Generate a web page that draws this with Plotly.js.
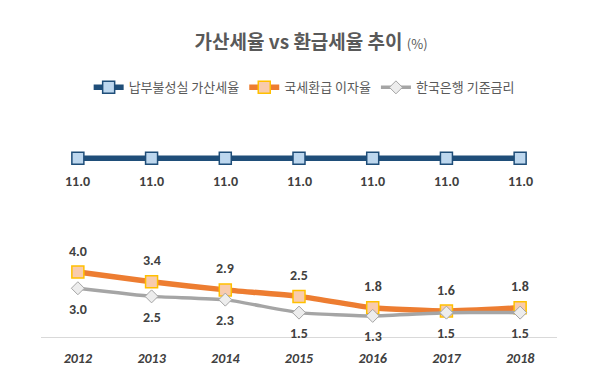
<!DOCTYPE html>
<html>
<head>
<meta charset="utf-8">
<script src="https://cdn.plot.ly/plotly-3.0.1.min.js"></script>
<style>html,body{margin:0;padding:0;background:#fff;}#chart{width:604px;height:383px;}</style>
</head>
<body>
<div id="chart"></div>
<script>
const years = ['2012','2013','2014','2015','2016','2017','2018'];
const penaltyRate = [11.0, 11.0, 11.0, 11.0, 11.0, 11.0, 11.0];
const refundRate = [4.0, 3.4, 2.9, 2.5, 1.8, 1.6, 1.8];
const baseRate = [3.0, 2.5, 2.3, 1.5, 1.3, 1.5, 1.5];
const seriesNames = ['납부불성실 가산세율', '국세환급 이자율', '한국은행 기준금리'];

const fnt = '"Noto Sans CJK KR", "Noto Sans", sans-serif';
const numFamily = 'Carlito, "Liberation Sans", Arial, sans-serif';
const lblFont = {family: numFamily, size: 14, color: '#404040'};
const fmt = v => '<b>' + v.toFixed(1) + '</b>';

const traces = [
  {
    x: years, y: penaltyRate, name: seriesNames[0], type: 'scatter', mode: 'lines+markers',
    line: {color: '#1F4E79', width: 5.5},
    marker: {symbol: 'square', size: 12, color: '#BDD7EE', line: {color: '#1F4E79', width: 1.5}},
    cliponaxis: false
  },
  {
    x: years, y: refundRate, name: seriesNames[1], type: 'scatter', mode: 'lines+markers',
    line: {color: '#ED7D31', width: 5.5, shape: 'spline', smoothing: 0.5},
    marker: {symbol: 'square', size: 12, color: '#F8CBAD', line: {color: '#FFC000', width: 1.5}},
    cliponaxis: false
  },
  {
    x: years, y: baseRate, name: seriesNames[2], type: 'scatter', mode: 'lines+markers',
    line: {color: '#A5A5A5', width: 3.5, shape: 'spline', smoothing: 0.4},
    marker: {symbol: 'diamond', size: 10, color: '#EDEDED', line: {color: '#A5A5A5', width: 1}},
    cliponaxis: false
  }
];

const annotations = [];
function addLabels(vals, shift) {
  vals.forEach((v, i) => annotations.push({
    x: i, y: v, xref: 'x', yref: 'y', text: fmt(v), showarrow: false,
    yshift: shift, font: lblFont, xanchor: 'center', yanchor: 'middle'
  }));
}
addLabels(penaltyRate, -23);
addLabels(refundRate, 21);
addLabels(baseRate, -21);

const layout = {
  width: 604, height: 383,
  margin: {l: 41, r: 47, t: 142, b: 46},
  paper_bgcolor: '#fff', plot_bgcolor: '#fff',
  showlegend: true,
  annotations: annotations,
  title: {
    text: '<b>가산세율 vs 환급세율 추이</b> <span style="font-size:13px;font-weight:normal">(%)</span>',
    x: 0.515, xanchor: 'center', y: 0.89, yanchor: 'middle',
    font: {family: fnt, size: 19, color: '#595959'}
  },
  legend: {
    orientation: 'h', x: 0.51, xanchor: 'center', y: 1.28, yanchor: 'middle',
    font: {family: fnt, size: 13, color: '#595959'},
    itemwidth: 30, traceorder: 'normal'
  },
  xaxis: {
    type: 'category', range: [-0.5, 6.5], showgrid: false, zeroline: false,
    showline: true, linecolor: '#D9D9D9', linewidth: 1,
    ticks: '', ticklen: 0, ticklabelstandoff: 8,
    tickfont: {family: numFamily, size: 14, color: '#404040', weight: 'bold', style: 'italic'},
    fixedrange: true
  },
  yaxis: {
    range: [0, 12], visible: false, showgrid: false, zeroline: false, fixedrange: true
  }
};

Plotly.newPlot('chart', traces, layout, {displayModeBar: false, staticPlot: true});
</script>
</body>
</html>
